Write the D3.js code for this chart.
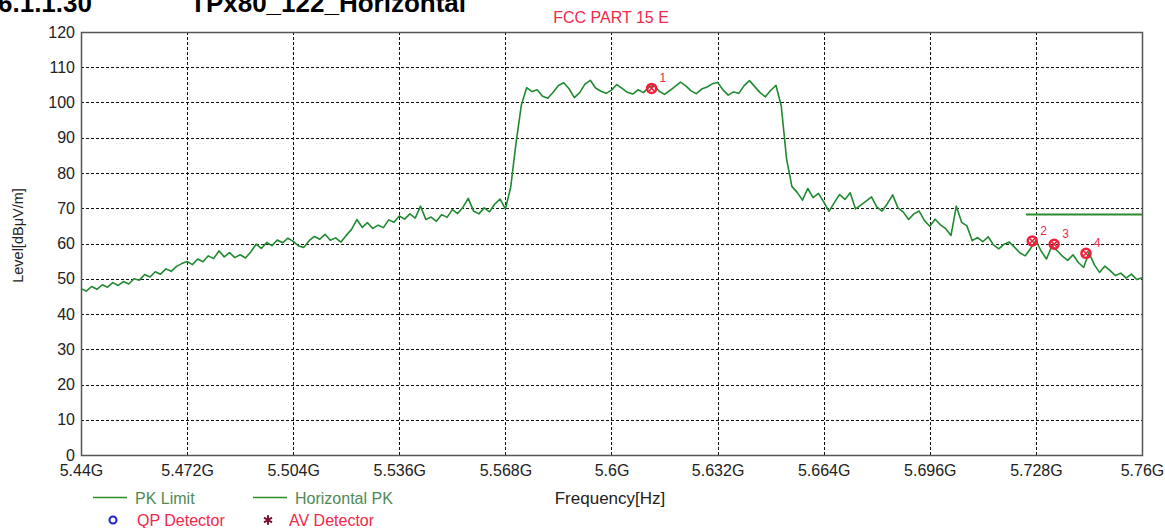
<!DOCTYPE html>
<html lang="en">
<head>
    <meta charset="UTF-8">
    <title>FCC PART 15 E</title>
    <script src="https://d3js.org/d3.v7.min.js"></script>
    <style>
        body { margin: 0; background: #fff; }
        text { font-family: "Liberation Sans", Arial, sans-serif; }
    </style>
</head>
<body>
    <div id="chart"></div>

    <script>
        const width = 1165, height = 528;

        // sweep: start / step in GHz, one level per sweep point
        const sweepStart = 5.44, sweepStep = 0.0016;
        const levels = [
            47.2, 46.5, 47.8, 47.0, 48.3, 47.6, 48.9, 48.1, 49.2, 48.5,
            50.0, 49.6, 51.2, 50.5, 52.0, 51.3, 52.8, 52.1, 53.5, 54.3,
            54.9, 54.0, 55.6, 54.8, 56.5, 55.7, 57.9, 56.2, 57.4, 56.0,
            56.8, 55.9, 57.6, 59.8, 58.6, 60.3, 59.4, 61.0, 60.2, 61.5,
            60.6, 59.3, 58.9, 60.8, 62.0, 61.2, 62.6, 60.9, 61.6, 60.4,
            62.3, 64.0, 66.8, 64.6, 65.9, 64.3, 65.2, 64.5, 66.7, 66.0,
            67.8, 66.9, 68.4, 67.2, 70.6, 66.8, 67.5, 66.3, 68.2, 67.4,
            69.6, 68.5, 70.3, 72.8, 69.2, 68.4, 70.1, 69.0, 71.2, 72.6,
            69.8, 76.0, 88.5, 99.2, 104.2, 103.1, 103.6, 101.8, 101.2, 102.9,
            104.8, 105.6, 103.9, 101.4, 102.8, 105.2, 106.3, 104.1, 103.2, 102.6,
            103.5, 105.1, 104.0, 102.9, 102.4, 103.6, 102.8, 104.3, 104.9, 103.2,
            102.3, 103.4, 104.6, 105.8, 104.7, 103.3, 102.5, 103.8, 104.4, 105.3,
            105.7, 103.6, 102.1, 103.0, 102.6, 104.8, 106.2, 104.5, 102.8, 101.6,
            103.4, 104.9, 99.0, 84.0, 76.2, 74.5, 72.3, 75.6, 73.0, 74.2,
            71.8, 69.1, 71.6, 73.9, 72.5, 74.4, 69.8, 70.9, 72.0, 73.2,
            70.4, 69.2, 71.3, 73.8, 70.1, 68.9, 66.8, 68.4, 69.2, 66.5,
            64.9, 66.9, 65.3, 64.2, 62.3, 70.6, 66.0, 65.0, 60.8, 61.7,
            60.5, 61.9, 59.6, 58.5, 59.8, 60.4, 58.9, 57.3, 56.5, 58.6,
            60.9, 57.8, 55.6, 59.3, 58.0, 56.4, 55.2, 56.8, 54.6, 53.2,
            57.4, 54.0, 51.8, 53.6, 52.3, 50.9, 51.6, 50.2, 51.3, 49.8,
            50.3
        ];

        // PK limit (restricted band edge)
        const limitFreq = [5.725, 5.76];
        const limitLevel = [68.2, 68.2];

        // marker points
        const markerNo = ["1", "2", "3", "4"];
        const markerFreq = [5.6121, 5.7269, 5.7335, 5.7431];
        const markerLevel = [104.0, 60.7, 59.8, 57.2];

        const xTicks = [5.44, 5.472, 5.504, 5.536, 5.568, 5.6, 5.632, 5.664, 5.696, 5.728, 5.76];
        const xTickLabels = ["5.44G", "5.472G", "5.504G", "5.536G", "5.568G", "5.6G", "5.632G", "5.664G", "5.696G", "5.728G", "5.76G"];
        const yTicks = [0, 10, 20, 30, 40, 50, 60, 70, 80, 90, 100, 110, 120];

        const margin = {left: 81, right: 23, top: 32, bottom: 73};
        const plotW = width - margin.left - margin.right;
        const plotH = height - margin.top - margin.bottom;

        const svg = d3.select("#chart")
                      .append("svg")
                      .attr("width", width)
                      .attr("height", height);

        const x = d3.scaleLinear().domain([5.44, 5.76]).range([margin.left, margin.left + plotW]);
        const y = d3.scaleLinear().domain([0, 120]).range([margin.top + plotH, margin.top]);

        // heading at top left (cut by the page edge, as in the report)
        svg.append("text")
           .attr("x", -2).attr("y", 12)
           .attr("font-size", "26px").attr("font-weight", "bold")
           .attr("fill", "#000")
           .text("6.1.1.30");
        svg.append("text")
           .attr("x", 190).attr("y", 12)
           .attr("font-size", "26px").attr("font-weight", "bold")
           .attr("fill", "#000")
           .text("TPx80_122_Horizontal");

        // title
        svg.append("text")
           .attr("x", 611).attr("y", 23)
           .attr("text-anchor", "middle")
           .attr("font-size", "16px")
           .attr("fill", "#f0284a")
           .text("FCC PART 15 E");

        // grid
        const grid = svg.append("g").attr("stroke", "#111").attr("stroke-dasharray", "3,2").attr("stroke-width", 1);
        grid.selectAll(".gy").data(yTicks.slice(1, -1)).join("line")
            .attr("x1", margin.left).attr("x2", margin.left + plotW)
            .attr("y1", d => Math.round(y(d)) + 0.5).attr("y2", d => Math.round(y(d)) + 0.5);
        grid.selectAll(".gx").data(xTicks.slice(1, -1)).join("line")
            .attr("y1", margin.top).attr("y2", margin.top + plotH)
            .attr("x1", d => Math.round(x(d)) + 0.5).attr("x2", d => Math.round(x(d)) + 0.5);

        // frame
        svg.append("rect")
           .attr("x", margin.left + 0.5).attr("y", margin.top + 0.5)
           .attr("width", plotW).attr("height", plotH)
           .attr("fill", "none").attr("stroke", "#555").attr("stroke-width", 1.5);

        // axes (labels only, ticks hidden)
        const xAxis = svg.append("g")
           .attr("transform", `translate(0,${margin.top + plotH})`)
           .call(d3.axisBottom(x).tickValues(xTicks).tickSize(0).tickPadding(10)
                   .tickFormat((d, i) => xTickLabels[i]));
        const yAxis = svg.append("g")
           .attr("transform", `translate(${margin.left},0)`)
           .call(d3.axisLeft(y).tickValues(yTicks).tickSize(0).tickPadding(6));
        [xAxis, yAxis].forEach(a => {
            a.select(".domain").remove();
            a.selectAll("text").attr("font-size", "16px").attr("fill", "#222")
             .attr("font-family", "'Liberation Sans', Arial, sans-serif");
        });

        // axis titles
        svg.append("text")
           .attr("transform", `translate(23,${margin.top + plotH / 2 - 8}) rotate(-90)`)
           .attr("text-anchor", "middle")
           .attr("font-size", "14.5px").attr("fill", "#222")
           .text("Level[dBμV/m]");
        svg.append("text")
           .attr("x", 610).attr("y", 504)
           .attr("text-anchor", "middle")
           .attr("font-size", "17px").attr("fill", "#222")
           .text("Frequency[Hz]");

        // trace
        const line = d3.line()
            .x((d, i) => x(sweepStart + i * sweepStep))
            .y(d => y(d));
        svg.append("path")
           .datum(levels)
           .attr("d", line)
           .attr("fill", "none")
           .attr("stroke", "#1f8a30")
           .attr("stroke-width", 1.6)
           .attr("stroke-linejoin", "round");

        // limit
        svg.append("path")
           .datum(limitFreq.map((f, i) => [f, limitLevel[i]]))
           .attr("d", d3.line().x(d => x(d[0])).y(d => y(d[1])))
           .attr("fill", "none")
           .attr("stroke", "#2a8c2a")
           .attr("stroke-width", 2);

        // markers
        const markers = svg.append("g").selectAll("g")
            .data(markerNo.map((n, i) => ({n, f: markerFreq[i], v: markerLevel[i]})))
            .join("g")
            .attr("transform", d => `translate(${x(d.f)},${y(d.v)})`);
        markers.append("circle")
            .attr("r", 4.5).attr("fill", "none").attr("stroke", "#f0203c").attr("stroke-width", 2.5);
        markers.append("path")
            .attr("d", d3.symbol(d3.symbolX, 40))
            .attr("fill", "none").attr("stroke", "#f0203c").attr("stroke-width", 1.5);
        markers.append("text")
            .attr("x", 8).attr("y", -6)
            .attr("font-size", "12px").attr("fill", "#f0284a")
            .text(d => d.n);

        // legend
        const lg = svg.append("g");
        const legendLines = [
            {x: 93, label: "PK Limit"},
            {x: 253, label: "Horizontal PK"}
        ];
        legendLines.forEach(d => {
            lg.append("line")
              .attr("x1", d.x).attr("x2", d.x + 34)
              .attr("y1", 497.5).attr("y2", 497.5)
              .attr("stroke", "#2a8c2a").attr("stroke-width", 1.5);
            lg.append("text")
              .attr("x", d.x + 42).attr("y", 503.5)
              .attr("font-size", "16px").attr("fill", "#4f8a55")
              .text(d.label);
        });
        lg.append("circle")
          .attr("cx", 113).attr("cy", 520).attr("r", 3.5)
          .attr("fill", "none").attr("stroke", "#2020d0").attr("stroke-width", 2);
        lg.append("text")
          .attr("x", 137).attr("y", 526)
          .attr("font-size", "16px").attr("fill", "#f0284a")
          .text("QP Detector");
        lg.append("path")
          .attr("transform", "translate(268,520)")
          .attr("d", d3.symbol(d3.symbolAsterisk, 60))
          .attr("fill", "#7a1030").attr("stroke", "#7a1030").attr("stroke-width", 2);
        lg.append("text")
          .attr("x", 289).attr("y", 526)
          .attr("font-size", "16px").attr("fill", "#f0284a")
          .text("AV Detector");
    </script>
</body>
</html>
